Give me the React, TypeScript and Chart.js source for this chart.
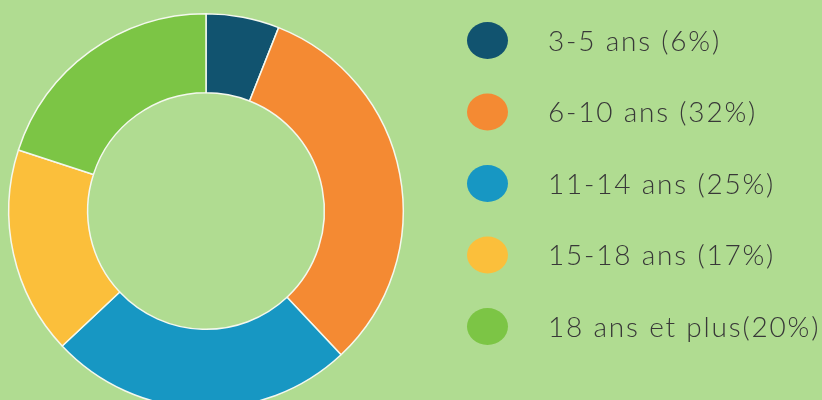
import React, { useEffect, useRef } from "react";
import { Chart, registerables } from "chart.js";

Chart.register(...registerables);

const categories = ["3-5 ans", "6-10 ans", "11-14 ans", "15-18 ans", "18 ans et plus"];
const legendLabels = ["3-5 ans (6%)", "6-10 ans (32%)", "11-14 ans (25%)", "15-18 ans (17%)", "18 ans et plus(20%)"];
const values = [6, 32, 25, 17, 20];
const colors = ["#11536f", "#f48a33", "#1797c3", "#fbbf3b", "#7cc545"];
const BG = "#b0dc91";

const legendPlugin = {
  id: "customLegend",
  afterDraw(chart: any) {
    const ctx = chart.ctx as CanvasRenderingContext2D;
    const labels = legendLabels;
    const ds = chart.data.datasets[0];
    ctx.save();
    labels.forEach((lab, i) => {
      const cy = 40.5 + i * 71.5;
      ctx.fillStyle = ds.backgroundColor[i];
      ctx.beginPath();
      ctx.ellipse(487.5, cy, 20.5, 18.5, 0, 0, Math.PI * 2);
      ctx.fill();
      ctx.fillStyle = "#383838";
      ctx.font = "300 28px Lato";
      (ctx as any).letterSpacing = "1.8px";
      ctx.textBaseline = "middle";
      ctx.textAlign = "left";
      ctx.fillText(lab, 548, cy + 1);
    });
    ctx.restore();
  },
};

export default function App() {
  const ref = useRef<HTMLCanvasElement>(null);
  useEffect(() => {
    document.body.style.margin = "0";
    document.body.style.background = BG;
    document.body.style.overflow = "hidden";
    const chart = new Chart(ref.current!, {
      type: "doughnut",
      data: {
        labels: categories,
        datasets: [
          {
            data: values,
            backgroundColor: colors,
            borderColor: "#f4f8ee",
            borderWidth: 1.5,
            hoverOffset: 0,
          },
        ],
      },
      options: {
        animation: false,
        responsive: false,
        maintainAspectRatio: false,
        cutout: "60%",
        layout: { padding: { left: 8, right: 418, top: 13, bottom: 21 } },
        plugins: { legend: { display: false }, tooltip: { enabled: false } },
      },
      plugins: [legendPlugin],
    });
    return () => chart.destroy();
  }, []);
  return (
    <div style={{ width: 822, height: 400, overflow: "hidden", background: BG }}>
      <canvas ref={ref} width={822} height={430} style={{ display: "block" }} />
    </div>
  );
}
